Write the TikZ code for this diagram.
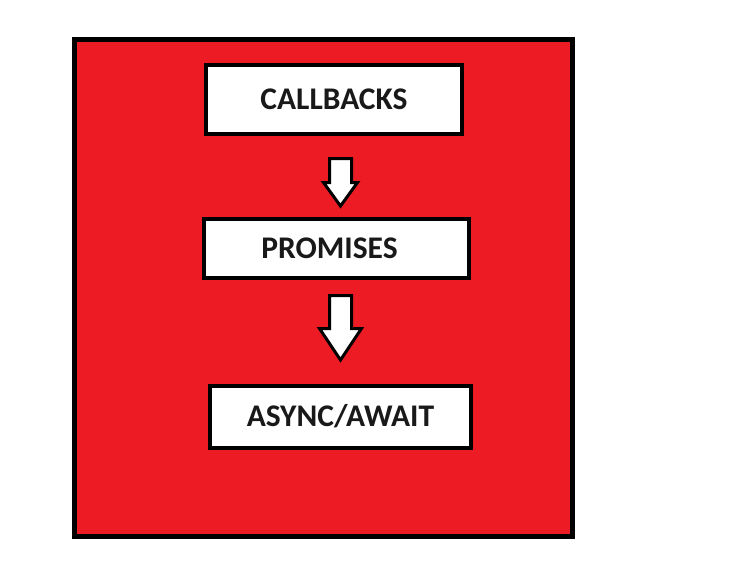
\documentclass[tikz,border=0pt]{standalone}
\usepackage{fontspec}
\setmainfont{Carlito}
\usetikzlibrary{calc}
\definecolor{paintred}{HTML}{ED1C24}
\tikzset{
    stagebox/.style={
        rectangle,
        draw=black, % 黑色边框
        fill=white,
        line width=4pt,
        inner sep=0,
        font=\bfseries\fontsize{31.5}{34}\selectfont,
        text=black!90
    },
    blockarrow/.style={
        draw=black,
        fill=white,
        line width=3pt,
        line join=miter
    }
}
\begin{document}
\begin{tikzpicture}[x=1pt,y=-1pt]
    \useasboundingbox (0,0) rectangle (736,562);
    % 红色背景框
    \draw[line width=5pt, fill=paintred] (74.5,39.5) rectangle (572.5,536.5);
    % 三个阶段
    \node[stagebox, minimum width=256, minimum height=69] (callbacks) at (334,99.5) {CALLBACKS};
    \node[stagebox, minimum width=265, minimum height=59] (promises) at (336.5,248.5) {PROMISES\kern14pt};
    \node[stagebox, minimum width=261, minimum height=62] (async) at (340.5,417) {\raisebox{3pt}{ASYNC/AWAIT}};
    % 箭头
    \coordinate (arrowA) at (340.5,158.5);
    \coordinate (tipA) at (340.5,206);
    \coordinate (arrowB) at (340.5,295.5);
    \coordinate (tipB) at (340.5,360);
    \draw[blockarrow] ($(arrowA)+(-11,0)$) -- ++(0,24) -- ++(-6,0) -- (tipA)
        -- ($(arrowA)+(17,24)$) -- ++(-6,0) -- ++(0,-24) -- cycle;
    \draw[blockarrow] ($(arrowB)+(-11,0)$) -- ++(0,33) -- ++(-10,0) -- (tipB)
        -- ($(arrowB)+(21,33)$) -- ++(-10,0) -- ++(0,-33) -- cycle;
\end{tikzpicture}
\end{document}
